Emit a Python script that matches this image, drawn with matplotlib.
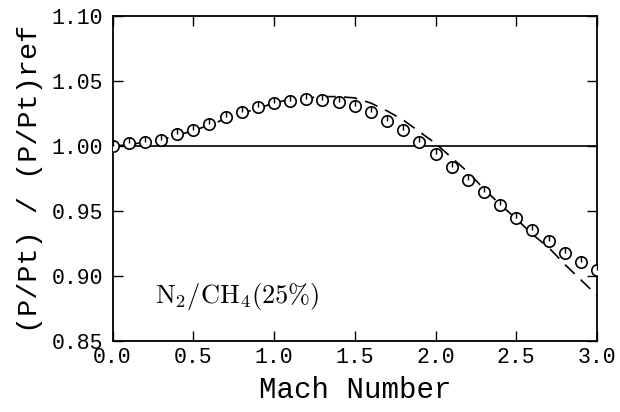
import matplotlib
matplotlib.use("Agg")
import matplotlib.pyplot as plt
from matplotlib.path import Path
import numpy as np

# Data
mach_pts = [0.0, 0.1, 0.2, 0.3, 0.4, 0.5, 0.6, 0.7, 0.8, 0.9, 1.0,
            1.1, 1.2, 1.3, 1.4, 1.5, 1.6, 1.7, 1.8, 1.9, 2.0,
            2.1, 2.2, 2.3, 2.4, 2.5, 2.6, 2.7, 2.8, 2.9, 3.0]
ratio_pts = [1.000, 1.002, 1.003, 1.005, 1.009, 1.012, 1.017, 1.022, 1.026, 1.030, 1.033,
             1.035, 1.036, 1.0355, 1.0335, 1.031, 1.026, 1.019, 1.012, 1.003, 0.994,
             0.984, 0.974, 0.965, 0.955, 0.945, 0.9355, 0.927, 0.918, 0.911, 0.9045]

mach_curve = [0.0, 0.1, 0.2, 0.3, 0.4, 0.5, 0.6, 0.7, 0.8, 0.9, 1.0,
              1.1, 1.2, 1.3, 1.4, 1.5, 1.6, 1.7, 1.8, 1.9, 2.0,
              2.1, 2.2, 2.3, 2.4, 2.5, 2.6, 2.7, 2.8, 2.9, 3.0]
ratio_curve = [1.000, 1.001, 1.003, 1.005, 1.008, 1.012, 1.016, 1.021, 1.025, 1.029, 1.033,
               1.036, 1.037, 1.038, 1.038, 1.037, 1.033, 1.027, 1.020, 1.011, 1.002,
               0.991, 0.980, 0.967, 0.955, 0.944, 0.932, 0.922, 0.909, 0.897, 0.885]

ref_level = 1.0
xticks = [0.0, 0.5, 1.0, 1.5, 2.0, 2.5, 3.0]
yticks = [0.85, 0.90, 0.95, 1.00, 1.05, 1.10]
xlabel = "Mach Number"
ylabel = "(P/Pt) / (P/Pt)ref"
annot = r"$\mathrm{N_2/CH_4(25\%)}$"

plt.rcParams['mathtext.fontset'] = 'cm'
mono = 'Liberation Mono'

fig = plt.figure(figsize=(6.2, 4.12), dpi=100)
ax = fig.add_axes([0.1815, 0.1723, 0.7815, 0.7888])

ax.axhline(ref_level, color='black', lw=1.2, zorder=1)
ax.plot(mach_curve, ratio_curve, color='black', lw=1.2,
        dashes=(8, 5), zorder=2)
ax.plot(mach_pts, ratio_pts, linestyle='none', marker='o', markersize=8.2,
        markerfacecolor='white', markeredgecolor='black', markeredgewidth=1.2, zorder=3)
stem = Path([(0, 0), (0, 1)], [Path.MOVETO, Path.LINETO])
ax.plot(mach_pts, ratio_pts, linestyle='none', marker=stem, markersize=8.2,
        markeredgecolor='black', markeredgewidth=1.0, zorder=4)

ax.text(0.263, 0.8793, annot, fontsize=19, ha='left', va='baseline', color='black')

ax.set_xlim(0, 3.0)
ax.set_ylim(0.85, 1.10)
ax.set_xticks(xticks)
ax.set_yticks(yticks)
ax.set_xticklabels([f"{v:.1f}" for v in xticks], fontfamily=mono, fontsize=15.5)
ax.set_yticklabels([f"{v:.2f}" for v in yticks], fontfamily=mono, fontsize=15.5)
ax.tick_params(direction='in', length=7, width=1.0, top=True, right=True,
               labeltop=False, labelright=False)
ax.tick_params(axis='x', pad=4)
ax.tick_params(axis='y', pad=7)
for s in ax.spines.values():
    s.set_linewidth(1.3)

ax.set_xlabel(xlabel, fontfamily=mono, fontsize=21, labelpad=6)
ax.set_ylabel(ylabel, fontfamily=mono, fontsize=20.5, labelpad=6)

fig.savefig("out.png", dpi=100)
